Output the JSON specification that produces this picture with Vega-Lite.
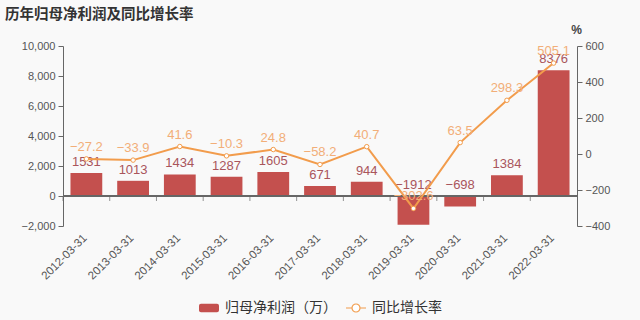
{
"$schema": "https://vega.github.io/schema/vega-lite/v6.json",
"autosize": {"type": "none"},
"width": 514, "height": 180,
"padding": {"left": 63, "top": 46, "right": 63, "bottom": 94},
"background": "#f9f9f9",
"title": {"text": "历年归母净利润及同比增长率", "anchor": "start", "frame": "group", "dx": -58, "offset": 1, "fontSize": 14.5, "fontWeight": "bold", "color": "#333", "font": "Noto Sans CJK SC"},
"config": {"view": {"stroke": null}, "font": "Liberation Sans, Noto Sans CJK SC"},
"data": {"values": [
{"date": "2012-03-31", "profit": 1531, "growth": -27.2},
{"date": "2013-03-31", "profit": 1013, "growth": -33.9},
{"date": "2014-03-31", "profit": 1434, "growth": 41.6},
{"date": "2015-03-31", "profit": 1287, "growth": -10.3},
{"date": "2016-03-31", "profit": 1605, "growth": 24.8},
{"date": "2017-03-31", "profit": 671, "growth": -58.2},
{"date": "2018-03-31", "profit": 944, "growth": 40.7},
{"date": "2019-03-31", "profit": -1912, "growth": -302.6},
{"date": "2020-03-31", "profit": -698, "growth": 63.5},
{"date": "2021-03-31", "profit": 1384, "growth": 298.3},
{"date": "2022-03-31", "profit": 8376, "growth": 505.1}
]},
"encoding": {
"x": {"field": "date", "type": "nominal", "sort": null, "scale": {"paddingInner": 0.32, "paddingOuter": 0.16},
"axis": {"title": null, "domain": false, "ticks": false, "labelAngle": -45, "labelAlign": "right", "labelBaseline": "middle", "labelPadding": 10, "labelOffset": -1, "labelColor": "#555", "labelFontSize": 11.5}}
},
"layer": [
{
"encoding": {
"y": {"field": "profit", "type": "quantitative", "scale": {"domain": [-2000, 10000], "nice": false, "zero": false},
"axis": {"title": null, "orient": "left", "values": [-2000, 0, 2000, 4000, 6000, 8000, 10000], "format": ",d", "grid": false, "domainColor": "#666", "tickColor": "#666", "tickSize": 5, "labelColor": "#555", "labelFontSize": 11, "labelPadding": 3}}
},
"layer": [
{"mark": {"type": "bar"},
"encoding": {"color": {"datum": "归母净利润（万）", "scale": {"domain": ["归母净利润（万）"], "range": ["#c4504e"]},
"legend": {"orient": "none", "legendX": 135, "legendY": 251, "title": null, "labelFontSize": 14, "labelColor": "#333", "labelFont": "Noto Sans CJK SC", "symbolSize": 400, "labelOffset": 5, "padding": 0,
"symbolType": "M-0.8,-0.42H0.8A0.2,0.2,0,0,1,1,-0.22V0.22A0.2,0.2,0,0,1,0.8,0.42H-0.8A0.2,0.2,0,0,1,-1,0.22V-0.22A0.2,0.2,0,0,1,-0.8,-0.42Z"}}}},
{"mark": {"type": "rule", "color": "#666", "strokeWidth": 1}, "encoding": {"y": {"datum": 0, "type": "quantitative"}, "x": null}},
{"mark": {"type": "tick", "orient": "vertical", "size": 5, "color": "#666", "thickness": 1, "xOffset": -23.36, "yOffset": 2.5}, "encoding": {"y": {"datum": 0, "type": "quantitative"}}},
{"transform": [{"filter": "datum.profit >= 0"}], "mark": {"type": "text", "baseline": "bottom", "dy": -4, "fontSize": 13, "color": "#a9555c"}, "encoding": {"text": {"field": "profit", "type": "quantitative", "format": "d"}}},
{"transform": [{"filter": "datum.profit < 0"}], "mark": {"type": "text", "baseline": "bottom", "dy": -4, "fontSize": 13, "color": "#a9555c"}, "encoding": {"y": {"datum": 0, "type": "quantitative"}, "text": {"field": "profit", "type": "quantitative", "format": "d"}}}
]
},
{
"encoding": {
"y": {"field": "growth", "type": "quantitative", "scale": {"domain": [-400, 600], "nice": false, "zero": false},
"axis": {"title": "%", "orient": "right", "values": [-400, -200, 0, 200, 400, 600], "grid": false, "domainColor": "#666", "tickColor": "#666", "tickSize": 5, "labelColor": "#555", "labelFontSize": 11, "labelPadding": 3, "titleAngle": 0, "titleX": -1, "titleY": -13, "titleAlign": "center", "titleBaseline": "alphabetic", "titleFontSize": 12, "titleFontWeight": "bold", "titleColor": "#444"}}
},
"layer": [
{"mark": {"type": "line", "strokeWidth": 2},
"encoding": {"stroke": {"datum": "同比增长率", "scale": {"domain": ["同比增长率"], "range": ["#f29c4c"]},
"legend": {"orient": "none", "legendX": 282, "legendY": 251, "title": null, "labelFontSize": 14, "labelColor": "#333", "labelFont": "Noto Sans CJK SC", "symbolSize": 400, "symbolStrokeWidth": 1.2, "symbolFillColor": "#ffffff", "labelOffset": 5, "padding": 0,
"symbolType": "M-1,0H-0.4M0.4,0H1M0.4,0A0.4,0.4,0,1,1,-0.4,0A0.4,0.4,0,1,1,0.4,0",
"encode": {"symbols": {"update": {"fill": {"value": "#ffffff"}, "fillOpacity": {"value": 1}}}}}}}},
{"mark": {"type": "point", "filled": true, "fill": "#ffffff", "stroke": "#f29c4c", "strokeWidth": 1, "size": 20, "opacity": 1}},
{"mark": {"type": "text", "baseline": "bottom", "dy": -5, "fontSize": 13, "color": "#f2ae78"}, "encoding": {"text": {"field": "growth", "type": "quantitative", "format": ".1f"}}}
]
}
],
"resolve": {"scale": {"y": "independent"}, "axis": {"y": "independent"}}
}
